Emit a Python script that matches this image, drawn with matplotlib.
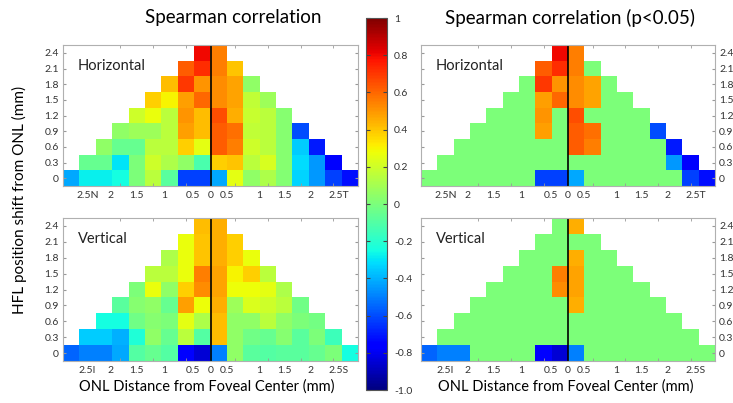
import numpy as np
import matplotlib
matplotlib.use("Agg")
import matplotlib.pyplot as plt

plt.rcParams["font.family"] = ["Lato", "DejaVu Sans"]

# Spearman correlation per cell; row r (shift 0.3*r mm) holds columns r..17-r
horizontal_rows = [
    [-0.42, -0.28, -0.28, -0.25, 0.0, 0.15, -0.08, -0.62, -0.62, -0.42, 0.25, 0.05, 0.12, 0.02, -0.33, -0.45, -0.62, -0.72],
    [-0.05, -0.05, -0.3, 0.0, 0.2, 0.12, 0.05, -0.12, 0.38, 0.4, 0.15, 0.22, 0.03, -0.32, -0.45, -0.75],
    [0.05, -0.05, -0.05, 0.15, 0.15, 0.38, 0.25, 0.62, 0.55, 0.2, 0.15, 0.03, -0.35, -0.7],
    [0.05, 0.08, 0.08, 0.15, 0.48, 0.42, 0.62, 0.58, 0.17, 0.15, 0.03, -0.6],
    [0.2, 0.27, 0.15, 0.5, 0.42, 0.65, 0.45, 0.18, 0.15, 0.03],
    [0.38, 0.3, 0.48, 0.6, 0.52, 0.47, 0.17, 0.08],
    [0.42, 0.7, 0.5, 0.52, 0.47, 0.05],
    [0.62, 0.72, 0.55, 0.4],
    [0.8, 0.55],
]
vertical_rows = [
    [-0.55, -0.5, -0.5, -0.42, -0.1, -0.05, -0.1, -0.75, -0.85, -0.5, 0.05, -0.08, -0.1, -0.08, -0.08, -0.05, 0.0, -0.25],
    [-0.35, -0.35, -0.4, -0.22, 0.05, -0.05, 0.15, -0.1, 0.42, 0.05, -0.03, -0.05, 0.03, -0.08, 0.0, -0.15],
    [-0.25, -0.25, -0.03, 0.03, 0.0, 0.25, 0.12, 0.42, 0.05, 0.05, 0.15, 0.05, 0.0, -0.02],
    [-0.08, 0.03, 0.05, -0.05, 0.48, 0.28, 0.45, 0.08, 0.23, 0.2, 0.15, -0.03],
    [0.0, 0.27, 0.05, 0.38, 0.52, 0.47, 0.28, 0.28, 0.25, 0.12],
    [0.15, 0.15, 0.27, 0.55, 0.47, 0.3, 0.38, 0.15],
    [0.12, 0.27, 0.4, 0.45, 0.38, 0.27],
    [0.27, 0.4, 0.45, 0.38],
    [0.42, 0.45],
]

# columns (0..17) with p<0.05, per row
sig_horizontal = [[7, 8, 9, 16, 17], [15, 16], [9, 10, 15], [7, 9, 10, 14], [7, 9],
                  [7, 8, 9, 10], [7, 8, 9, 10], [7, 8, 9], [8, 9]]
sig_vertical = [[0, 1, 2, 7, 8, 9], [], [], [9], [8, 9], [8, 9], [9], [], [9]]

shift_labels = ["0", "0.3", "0.6", "0.9", "1.2", "1.5", "1.8", "2.1", "2.4"]
dist_pos = [-7.5, -6.13, -4.54, -2.84, -1.05, 0.0, 0.99, 2.97, 4.48, 6.11, 7.8]
dist_h = ["2.5N", "2", "1.5", "1", "0.5", "0", "0.5", "1", "1.5", "2", "2.5T"]
dist_v = ["2.5I", "2", "1.5", "1", "0.5", "0", "0.5", "1", "1.5", "2", "2.5S"]
cbar_ticks = [-1.0, -0.8, -0.6, -0.4, -0.2, 0.0, 0.2, 0.4, 0.6, 0.8, 1.0]
cbar_labels = ["-1.0", "-0.8", "-0.6", "-0.4", "-0.2", "0", "0.2", "0.4", "0.6", "0.8", "1"]


def build_grid(rows):
    grid = np.full((9, 18), np.nan)
    for r, vals in enumerate(rows):
        grid[r, r:18 - r] = vals
    return grid


def mask_grid(grid, sig):
    # non-significant cells are shown as 0 (light green)
    out = np.where(np.isnan(grid), np.nan, 0.0)
    for r, cols in enumerate(sig):
        out[r, cols] = grid[r, cols]
    return out


W, H = 733, 403
fig = plt.figure(figsize=(W / 100, H / 100), dpi=100)


def px_axes(x0, y0, x1, y1):
    return fig.add_axes([x0 / W, 1 - y1 / H, (x1 - x0) / W, (y1 - y0) / H])


def draw_panel(ax, grid, name, xlabels, right):
    im = ax.imshow(grid, origin="lower", extent=(-9, 9, -0.5, 8.5), aspect="auto",
                   cmap="jet", vmin=-1, vmax=1, interpolation="nearest")
    ax.axvline(0, color="black", lw=1.2)
    ax.set_xlim(-9, 9)
    ax.set_ylim(-0.5, 8.5)
    ax.set_xticks(dist_pos)
    ax.set_xticklabels(xlabels)
    ax.set_xticks([-7.5, -5.5, -3.5, -1.5, 1.5, 3.5, 5.5, 7.5], minor=True)
    ax.set_yticks(range(9))
    ax.set_yticklabels(shift_labels)
    ax.tick_params(axis="x", which="major", length=0, pad=3.5, labelsize=7.5, labelcolor="#333333")
    ax.tick_params(axis="x", which="minor", direction="in", length=2.5, top=True,
                   bottom=True, color="#999999")
    ax.tick_params(axis="y", direction="in", length=2.5, left=True, right=True,
                   labelleft=not right, labelright=right, labelsize=7.5,
                   labelcolor="#333333", color="#999999", pad=3)
    for s in ax.spines.values():
        s.set_color("#b0b0b0")
        s.set_linewidth(0.8)
    ax.text(0.05, 0.85, name, transform=ax.transAxes, fontsize=10.5,
            color="#222222", va="center", ha="left")
    return im


h_grid = build_grid(horizontal_rows)
v_grid = build_grid(vertical_rows)

ax1 = px_axes(63, 45, 358, 186)
im = draw_panel(ax1, h_grid, "Horizontal", dist_h, False)
ax2 = px_axes(63, 218, 358, 361)
draw_panel(ax2, v_grid, "Vertical", dist_v, False)
ax3 = px_axes(421, 45, 715, 186)
draw_panel(ax3, mask_grid(h_grid, sig_horizontal), "Horizontal", dist_h, True)
ax4 = px_axes(421, 218, 715, 361)
draw_panel(ax4, mask_grid(v_grid, sig_vertical), "Vertical", dist_v, True)

cax = px_axes(366, 18, 387, 390)
cb = fig.colorbar(im, cax=cax, ticks=cbar_ticks)
cb.ax.set_yticklabels(cbar_labels)
cb.ax.tick_params(direction="in", length=3, left=True, right=True, labelsize=7.5,
                  labelcolor="#333333", color="#444444", pad=5)
cb.outline.set_edgecolor("#555555")
cb.outline.set_linewidth(0.8)

fig.text(233 / W, 1 - 18 / H, "Spearman correlation", fontsize=13.5, ha="center", va="center")
fig.text(570 / W, 1 - 18 / H, "Spearman correlation (p<0.05)", fontsize=13.5, ha="center", va="center")
fig.text(207 / W, 1 - 387 / H, "ONL Distance from Foveal Center (mm)", fontsize=10.5, ha="center", va="center")
fig.text(566 / W, 1 - 387 / H, "ONL Distance from Foveal Center (mm)", fontsize=10.5, ha="center", va="center")
fig.text(19 / W, 1 - 200 / H, "HFL position shift from ONL (mm)", fontsize=11, ha="center",
         va="center", rotation=90)

fig.savefig("out.png", dpi=100)
